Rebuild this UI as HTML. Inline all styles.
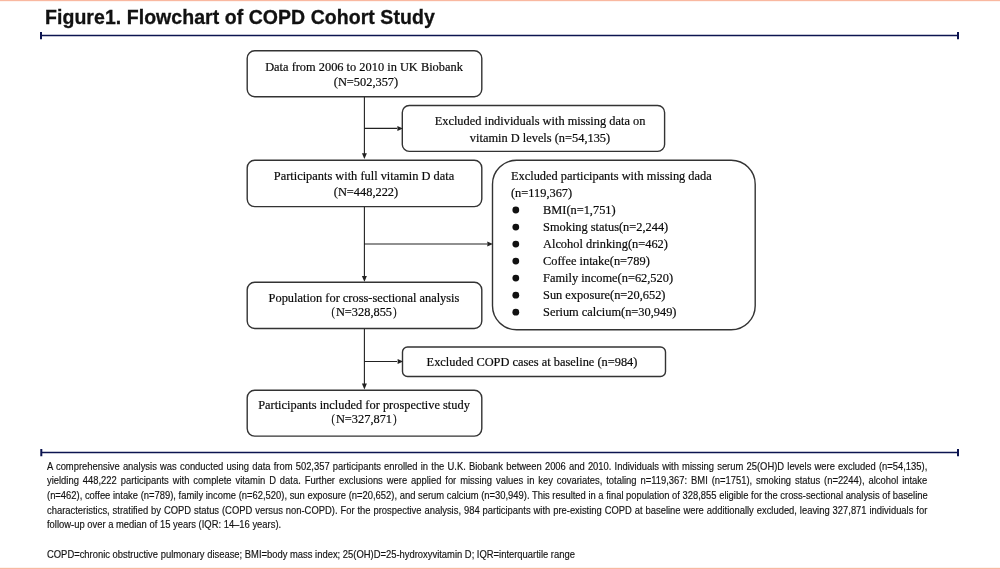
<!DOCTYPE html>
<html>
<head>
<meta charset="utf-8">
<style>
html,body{margin:0;padding:0;background:#fff;}
body{width:1000px;height:569px;position:relative;overflow:hidden;font-family:"Liberation Serif",serif;color:#111;}
.topband{position:absolute;left:0;top:0;width:1000px;height:2px;background:linear-gradient(#f9b8a0 0,#f9b8a0 50%,#fef3ef 50%,#fef3ef 100%);}
.botband{position:absolute;left:0;top:567px;width:1000px;height:2px;background:linear-gradient(#fef3ef 0,#fef3ef 50%,#f8b8a0 50%,#f8b8a0 100%);}
h1{position:absolute;left:44.6px;top:4.6px;margin:0;font-family:"Liberation Sans",sans-serif;font-weight:bold;font-size:19.5px;line-height:24px;color:#111;-webkit-text-stroke:0.3px #111;white-space:nowrap;letter-spacing:0.05px;transform:scaleX(1);transform-origin:0 0;will-change:transform;}
svg{position:absolute;left:0;top:0;}
.c{position:absolute;width:400px;text-align:center;font-size:13.0px;line-height:16px;white-space:nowrap;color:#0a0a0a;-webkit-text-stroke:0.2px #0a0a0a;transform:scaleX(0.952);transform-origin:50% 0;}
.l{position:absolute;font-size:13.0px;line-height:16px;white-space:nowrap;color:#0a0a0a;-webkit-text-stroke:0.2px #0a0a0a;transform:scaleX(0.952);transform-origin:0 0;}
.fp{display:inline-block;width:7px;text-align:center;transform:scale(0.8,0.9) translateY(0.3px);}
.cap{position:absolute;left:46.7px;top:459.8px;width:972.7px;transform:scaleX(0.905);transform-origin:0 0;font-family:"Liberation Sans",sans-serif;font-size:10.4px;line-height:14.66px;color:#111;-webkit-text-stroke:0.15px #111;}
.cap div{white-space:nowrap;}
.cap div.j{text-align:justify;text-align-last:justify;}
</style>
</head>
<body>
<div class="topband"></div>
<div class="botband"></div>
<h1>Figure1. Flowchart of COPD Cohort Study</h1>
<svg width="1000" height="569" viewBox="0 0 1000 569">
  <g stroke="#0c1450" fill="none">
    <path stroke-width="1.6" d="M41 35.5H958M41 452.5H958"/>
    <path stroke-width="2" d="M41 32V39.200M958 32V39.200M41.300 449V456.200M958 449V456.200"/>
  </g>
  <g stroke="#333" stroke-width="1.4" fill="#fff">
    <rect x="247.200" y="50.700" width="234.600" height="46" rx="7.500"/>
    <rect x="247.200" y="160.200" width="234.600" height="46.400" rx="7.500"/>
    <rect x="247.200" y="282.300" width="234.600" height="46.200" rx="7.500"/>
    <rect x="247.200" y="390.200" width="234.600" height="45.900" rx="7.500"/>
    <rect x="402.300" y="105.500" width="262.300" height="45.900" rx="7"/>
    <rect x="402.500" y="347" width="263" height="29.500" rx="5"/>
    <rect x="492.500" y="160.300" width="262.700" height="169.400" rx="24"/>
  </g>
  <g stroke="#222" stroke-width="1.100" fill="none">
    <path d="M364.400 97V154M364.400 128.400H397"/>
    <path d="M364.400 207V277M364.400 244H487"/>
    <path d="M364.400 329V385M364.400 361.500H397"/>
  </g>
  <g fill="#222">
    <path d="M361.900 153.200h5l-2.500 5.800z"/>
    <path d="M361.900 276h5l-2.500 5.800z"/>
    <path d="M361.900 383.600h5l-2.500 5.800z"/>
    <path d="M397.400 125.900v5.200l5.500 -2.600z"/>
    <path d="M397.600 358.900v5.200l5.500 -2.600z"/>
    <path d="M487.300 241.400v5.200l5.500 -2.600z"/>
  </g>
  <g fill="#111"><circle cx="515.8" cy="210.00" r="3.4"/><circle cx="515.8" cy="227.03" r="3.4"/><circle cx="515.8" cy="244.06" r="3.4"/><circle cx="515.8" cy="261.09" r="3.4"/><circle cx="515.8" cy="278.12" r="3.4"/><circle cx="515.8" cy="295.15" r="3.4"/><circle cx="515.8" cy="312.18" r="3.4"/></g>
</svg>
<div class="c" style="left:164.20px;top:58.81px;">Data from 2006 to 2010 in UK Biobank</div>
<div class="c" style="left:166.20px;top:73.81px;">(N=502,357)</div>
<div class="c" style="left:164.30px;top:168.31px;">Participants with full vitamin D data</div>
<div class="c" style="left:166.30px;top:183.81px;">(N=448,222)</div>
<div class="c" style="left:164.10px;top:289.81px;">Population for cross-sectional analysis</div>
<div class="c" style="left:164.10px;top:303.81px;"><span class="fp">(</span>N=328,855<span class="fp">)</span></div>
<div class="c" style="left:164.40px;top:396.81px;">Participants included for prospective study</div>
<div class="c" style="left:164.10px;top:411.11px;"><span class="fp">(</span>N=327,871<span class="fp">)</span></div>
<div class="c" style="left:340.00px;top:112.71px;">Excluded individuals with missing data on</div>
<div class="c" style="left:340.00px;top:129.71px;">vitamin D levels (n=54,135)</div>
<div class="c" style="left:332.00px;top:354.01px;">Excluded COPD cases at baseline (n=984)</div>
<div class="l" style="left:511.30px;top:167.91px;">Excluded participants with missing dada</div>
<div class="l" style="left:511.30px;top:184.81px;">(n=119,367)</div>
<div class="l" style="left:543.20px;top:201.71px;">BMI(n=1,751)</div>
<div class="l" style="left:543.20px;top:218.74px;">Smoking status(n=2,244)</div>
<div class="l" style="left:543.20px;top:235.77px;">Alcohol drinking(n=462)</div>
<div class="l" style="left:543.20px;top:252.80px;">Coffee intake(n=789)</div>
<div class="l" style="left:543.20px;top:269.83px;">Family income(n=62,520)</div>
<div class="l" style="left:543.20px;top:286.86px;">Sun exposure(n=20,652)</div>
<div class="l" style="left:543.20px;top:303.89px;">Serium calcium(n=30,949)</div>
<div class="cap">
<div class="j">A comprehensive analysis was conducted using data from 502,357 participants enrolled in the U.K. Biobank between 2006 and 2010. Individuals with missing serum 25(OH)D levels were excluded (n=54,135),</div>
<div class="j">yielding 448,222 participants with complete vitamin D data. Further exclusions were applied for missing values in key covariates, totaling n=119,367: BMI (n=1751), smoking status (n=2244), alcohol intake</div>
<div class="j">(n=462), coffee intake (n=789), family income (n=62,520), sun exposure (n=20,652), and serum calcium (n=30,949). This resulted in a final population of 328,855 eligible for the cross-sectional analysis of baseline</div>
<div class="j">characteristics, stratified by COPD status (COPD versus non-COPD). For the prospective analysis, 984 participants with pre-existing COPD at baseline were additionally excluded, leaving 327,871 individuals for</div>
<div>follow-up over a median of 15 years (IQR: 14–16 years).</div>
<div>&nbsp;</div>
<div>COPD=chronic obstructive pulmonary disease; BMI=body mass index; 25(OH)D=25-hydroxyvitamin D; IQR=interquartile range</div>
</div>
</body>
</html>
